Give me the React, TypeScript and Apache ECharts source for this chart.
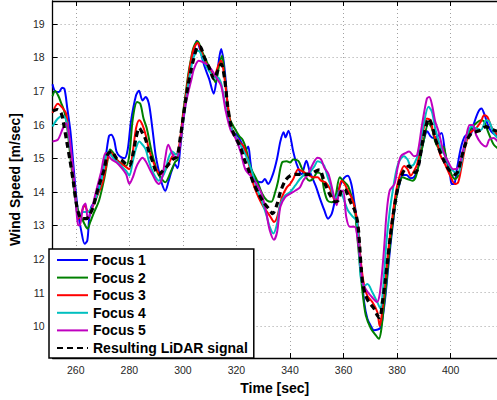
import React, { useEffect, useRef } from "react";
import * as echarts from "echarts";

const xTicks = [260, 280, 300, 320, 340, 360, 380, 400];
const yTicks = [10, 11, 12, 13, 14, 15, 16, 17, 18, 19];
const seriesNames = ["Focus 1", "Focus 2", "Focus 3", "Focus 4", "Focus 5", "Resulting LiDAR signal"];
const seriesColors = ["#0000ff", "#008000", "#ff0000", "#00bfbf", "#bf00bf", "#000000"];

const focus1: [number, number][] = [[251.3,17.2],[252.4,16.98],[253.7,16.97],[254.9,17.1],[255.8,17.05],[256.8,16.5],[258,15.8],[259,14.9],[260,14.0],[261,13.3],[262,12.85],[263.3,12.45],[264.3,12.55],[265,13.2],[265.8,13.55],[266.9,13.69],[268,13.9],[269.4,14.38],[271.2,15.07],[272.4,15.66],[273.2,15.7],[274.3,15.55],[275.2,15.2],[276.4,15.06],[278.2,15.0],[279.4,15.26],[280.6,16.09],[282.5,16.87],[283.6,17.01],[284.9,16.72],[286.1,16.82],[287.3,16.62],[288.6,15.89],[289.8,15.1],[291,14.62],[292.2,14.23],[293.4,14.03],[294.6,14.3],[295.8,14.62],[297,14.82],[298,14.7],[299,15.3],[300,16.1],[301,16.8],[302,17.35],[303,17.8],[304,18.2],[305.2,18.5],[306.5,18.2],[308,17.75],[309.8,17.36],[311.5,16.92],[312.5,17.3],[313.5,17.95],[314.3,18.25],[315.2,17.9],[316,17.3],[317.2,16.1],[318.5,15.8],[320,15.7],[321,15.6],[322.5,15.35],[323.5,15.25],[324.4,15.35],[325.2,14.9],[326,14.5],[327.5,14.33],[329.4,14.28],[330.6,14.38],[331.8,14.23],[333.6,14.52],[335.2,15.0],[336.4,15.5],[337.6,15.77],[338.3,15.62],[339.4,15.82],[341.2,15.2],[342.5,14.82],[344.3,14.52],[346.1,14.92],[347.3,14.62],[349.8,14.13],[351,13.84],[352.8,13.45],[354.2,13.2],[355.6,13.35],[356.8,13.74],[358,14.03],[359.2,14.28],[360.4,14.43],[361.6,14.48],[362.9,14.23],[364.1,13.64],[365.3,12.96],[366.5,11.79],[367.7,10.71],[368.9,10.22],[370.2,10.0],[371.3,9.88],[372.8,9.9],[373.8,9.95],[374.5,10.2],[375.5,10.8],[376.5,11.6],[377.5,12.4],[378.5,13.1],[379.6,13.8],[380.8,14.2],[382,14.5],[383.5,14.5],[385,14.4],[386.5,14.45],[388.1,14.8],[389.3,15.3],[390.5,15.7],[391.2,15.8],[392.5,15.65],[393.5,15.6],[395,15.65],[396.6,15.75],[398,15.1],[399.8,14.48],[400.4,14.23],[401.3,14.23],[402.2,14.62],[404.1,15.4],[405.9,15.69],[407.3,15.69],[408.5,15.99],[410.3,16.38],[411.5,16.48],[412.7,16.28],[413.9,15.99],[415.2,15.79],[417.5,15.65]];

const focus2: [number, number][] = [[251.3,16.85],[252.3,17.0],[253.5,16.85],[254.5,16.65],[255.5,16.45],[256.5,16.1],[257.5,15.4],[258.7,14.5],[259.8,13.8],[261,13.4],[262.3,13.2],[263.5,13.0],[264.4,12.9],[265.4,13.1],[266.9,13.4],[268.7,13.74],[270.6,14.38],[271.8,14.91],[272.75,15.26],[274,15.16],[275.8,14.91],[277.7,14.82],[278.8,14.77],[280,15.1],[281.3,16.18],[282.9,16.67],[284.1,16.62],[285.3,16.18],[286.5,15.89],[288.3,15.2],[289.6,14.82],[290.8,14.52],[292.6,14.33],[293.4,14.28],[295.6,14.62],[297.2,14.9],[298,14.95],[299,15.5],[300,16.3],[301,16.9],[302,17.5],[303,17.95],[304,18.3],[305.5,18.48],[307,18.2],[308,18.04],[310.4,17.6],[312.2,17.26],[313.5,17.75],[314.6,18.05],[315.7,17.36],[317.5,16.18],[319.3,15.89],[321.1,15.65],[322.3,15.55],[323.5,15.3],[325.3,14.72],[327.7,14.33],[329.6,13.94],[331.4,13.74],[333,13.7],[334.5,14.0],[335.5,14.3],[337,14.87],[338.8,14.91],[340,14.87],[341.2,14.96],[343.1,14.92],[344.3,14.72],[346.1,14.42],[347.3,14.33],[348.5,14.38],[350.3,14.57],[351.6,14.52],[352.8,14.03],[354,13.74],[355.6,13.69],[356.8,13.79],[358.6,14.43],[359.8,14.33],[361.6,14.18],[362.9,13.89],[364.1,13.55],[364.8,12.96],[365.9,11.98],[367.1,11.0],[368.3,10.32],[370.2,9.93],[372,9.73],[373.2,9.62],[374,9.85],[374.8,10.4],[376,11.3],[377.2,12.3],[378.4,13.1],[379.6,13.8],[380.8,14.23],[382,14.43],[383.8,14.38],[385.7,14.33],[386.9,14.43],[388.1,14.82],[389.9,15.5],[391.7,16.04],[393,15.89],[394.2,15.5],[395.4,15.3],[396.3,15.2],[397.3,15.35],[398.5,14.96],[400.3,14.52],[401.6,14.38],[402.8,14.48],[404,14.91],[405.9,15.6],[407.7,15.89],[409.5,16.04],[411.3,16.13],[412.5,16.09],[413.7,15.84],[414.9,15.6],[416.1,15.4],[417.5,15.3]];

const focus3: [number, number][] = [[251.3,16.35],[253.3,16.62],[255.2,16.48],[256.4,16.33],[257.5,15.6],[258.7,14.7],[259.9,13.85],[260.9,13.2],[262,13.35],[263.3,13.6],[264.2,13.45],[265.1,13.4],[266.3,13.55],[267.5,13.79],[270,14.28],[271.8,14.96],[272.75,15.2],[274.6,15.01],[276.4,14.87],[278.2,14.77],[280,14.67],[281.3,15.2],[282.5,15.89],[283.7,16.13],[284.9,15.99],[286.1,15.69],[287.3,15.26],[288.6,14.96],[289.8,14.72],[291.6,14.52],[292.8,14.57],[294.6,14.82],[296.4,15.1],[298,15.15],[299,15.6],[300,16.2],[301,16.8],[302,17.4],[303,17.9],[304,18.25],[305.5,18.43],[307,18.15],[308,17.94],[309.8,17.65],[311.6,17.45],[313.4,17.8],[314.3,17.9],[315.4,17.45],[316.7,16.62],[317.9,15.99],[319.6,15.65],[321.5,15.45],[322.7,15.35],[324.5,14.87],[326.3,14.23],[328.2,13.84],[330.1,13.55],[331.9,13.35],[333.4,13.16],[334,13.1],[335.2,13.25],[337,13.84],[338.8,14.13],[340,14.23],[341.2,14.38],[343.1,14.67],[344.3,14.62],[345.5,14.57],[347.3,14.48],[348.5,14.43],[350.3,14.43],[351.6,14.33],[353.2,14.28],[355,14.08],[356.8,13.74],[358,13.94],[359.2,14.33],[360.4,14.23],[361.6,14.03],[362.9,13.84],[364.1,13.55],[365.3,12.96],[366.5,11.88],[367.7,11.2],[368.9,10.9],[370.8,10.71],[372.6,10.42],[373.5,10.0],[374.2,10.3],[375,10.9],[376,11.7],[377.2,12.6],[378.4,13.35],[379.6,14.0],[380.8,14.43],[382.6,14.77],[383.9,14.67],[385.1,14.48],[386.3,14.62],[387.5,14.82],[389.3,15.6],[391.1,16.18],[392.4,16.13],[393.6,15.74],[395.4,15.35],[396.1,15.1],[397.9,14.82],[399.8,14.48],[401.6,14.23],[402.8,14.28],[404,14.72],[405.9,15.5],[407.7,15.79],[409.5,15.89],[411.3,16.09],[412.5,16.28],[413.7,16.23],[414.9,15.99],[416.1,15.79],[417.5,15.7]];

const focus4: [number, number][] = [[251.3,15.94],[253.3,16.18],[255.2,16.26],[256.5,16.1],[257.5,15.6],[258.7,14.8],[259.8,13.9],[260.9,13.25],[262.7,13.4],[264.5,13.4],[266.9,13.69],[269.4,14.28],[271.2,15.06],[272.4,15.2],[273.4,15.06],[275.2,14.91],[277,14.77],[278.8,14.62],[280,14.48],[281.3,14.91],[282.5,15.3],[283.7,15.5],[284.9,15.4],[286.1,15.26],[287.3,14.91],[288.6,14.62],[289.8,14.43],[291,14.33],[292.2,14.43],[293.4,14.62],[294.6,15.0],[296,15.2],[297.5,15.1],[299,15.4],[300,16.0],[301,16.6],[302,17.2],[303,17.65],[304,18.0],[305.5,18.2],[306.5,18.15],[308,17.85],[309.8,17.6],[311.6,17.41],[313.2,17.4],[314.2,17.25],[315,16.95],[316.6,16.28],[318.4,15.84],[320.3,15.55],[322.1,15.3],[323.9,15.01],[325.7,14.62],[327.5,14.13],[329.4,13.74],[331.2,13.3],[332.4,12.96],[333.8,12.76],[335.2,13.06],[336.4,13.64],[338.2,13.89],[340,13.99],[341.9,14.18],[343.7,14.38],[345.5,14.52],[347.3,14.57],[349.2,14.77],[350.3,14.91],[351.6,14.87],[352.8,14.77],[354,14.45],[355,14.23],[356.8,13.79],[358.6,14.03],[359.8,13.84],[361.6,13.45],[363.5,13.25],[364.7,13.16],[365.3,12.86],[365.9,12.08],[366.5,11.4],[367.7,11.2],[368.9,11.25],[370.8,11.0],[372.6,10.71],[373.8,10.52],[374.5,10.9],[375.2,11.6],[376,12.5],[377.2,13.4],[378.4,14.05],[379.6,14.6],[380.8,14.91],[382.6,15.06],[383.9,14.96],[385.1,14.77],[386.3,14.82],[388.1,15.2],[389.9,15.99],[391.7,16.53],[393,16.38],[394.2,15.89],[395.4,15.55],[396.1,15.35],[397.9,15.06],[399.8,14.72],[401.6,14.57],[402.8,14.52],[404,14.87],[405.9,15.6],[407.7,15.94],[409.5,15.89],[411.3,15.84],[413.2,16.13],[414.4,16.09],[416.1,15.74],[417.5,15.6]];

const focus5: [number, number][] = [[251.3,15.5],[253.3,15.55],[255.2,15.89],[256.4,16.04],[257.4,15.75],[258.4,15.1],[259.5,14.2],[260.3,13.4],[260.9,13.0],[261.5,13.0],[262.7,13.55],[263.6,13.65],[264.5,13.2],[265.7,13.4],[267.5,13.99],[269.4,14.57],[271.2,15.16],[273.4,14.96],[275.2,14.87],[277,14.72],[278.8,14.52],[280,14.23],[281.3,14.43],[282.5,14.72],[283.7,14.91],[284.9,15.01],[286.1,14.91],[287.3,14.72],[288.6,14.52],[289.8,14.33],[291,14.23],[292.2,14.4],[293.4,15.0],[294.5,15.4],[296.2,15.1],[297.5,15.0],[298.6,15.2],[299.5,15.7],[300.4,16.3],[301.4,16.75],[302.3,17.06],[303.2,17.35],[304.1,17.65],[305.9,17.9],[307.7,17.85],[309.5,17.75],[311.4,17.55],[312.5,17.4],[314.3,17.15],[316,16.4],[317.8,15.84],[319.6,15.6],[321.5,15.2],[323.3,14.67],[325.7,14.43],[327.5,14.23],[329.4,13.94],[331.2,13.35],[332.4,12.86],[334,12.57],[335.2,12.81],[336.4,13.55],[338.2,13.84],[340.1,13.94],[341.9,14.03],[343.7,14.13],[344.9,14.33],[346.7,14.52],[348.5,14.82],[350.3,15.01],[351.6,14.96],[352.8,14.72],[354.4,14.52],[356.2,13.94],[357.4,13.6],[358.6,14.03],[359.8,14.03],[361,13.25],[362.3,12.96],[364.1,12.96],[365.3,12.57],[366.3,11.88],[367.1,11.3],[368.3,11.1],[370.2,10.9],[372.5,10.72],[373.5,10.95],[374.5,11.7],[375.3,12.5],[376,13.3],[377.2,14.03],[379,14.23],[380.2,14.72],[381.4,15.06],[383.3,15.16],[384.5,15.2],[386.3,15.06],[387.5,15.1],[389.3,15.99],[391.1,16.77],[392,16.82],[393,16.6],[394.2,16.1],[395.5,15.79],[397.3,15.2],[399.2,14.87],[401,14.67],[402.8,14.72],[404,15.01],[405.9,15.69],[407.1,15.99],[408.3,15.99],[409.5,15.69],[411.3,15.45],[413.2,15.35],[414.4,15.55],[416,15.6],[417.5,15.5]];

const lidar: [number, number][] = [[251.3,16.4],[253,16.45],[254.5,16.35],[255.4,16.05],[256.6,15.5],[257.8,14.95],[259.1,14.28],[260.3,13.6],[261.5,13.25],[262.5,13.2],[264,13.2],[265,13.3],[266.3,13.5],[267.5,13.85],[268.7,14.2],[270.6,14.66],[271.8,15.1],[273.4,15.2],[275.2,15.0],[277,14.95],[278.8,14.82],[280,14.78],[281.3,15.1],[282.5,15.6],[283.7,15.9],[284.9,15.75],[286.1,15.55],[287.3,15.2],[288.6,14.92],[289.8,14.63],[291,14.52],[292.2,14.6],[294,14.75],[296,14.95],[297.8,15.05],[299,15.6],[300,16.15],[301,16.7],[302,17.2],[303,17.6],[304,17.95],[305.3,18.3],[306.3,18.33],[308,18.0],[309.8,17.7],[311.6,17.36],[313,17.6],[314.3,17.8],[315.5,17.4],[316.7,16.57],[317.9,15.99],[319.1,15.7],[320.4,15.5],[321.6,15.3],[322.8,15.0],[324.6,14.63],[326.5,14.23],[328.3,13.94],[330.1,13.69],[332,13.5],[333.5,13.35],[335.2,13.64],[336.4,13.99],[338.2,14.33],[340.1,14.48],[342.5,14.52],[344.9,14.52],[347.3,14.52],[349.8,14.62],[351,14.65],[353,14.25],[355,13.9],[356.8,13.7],[358,13.74],[359.2,14.03],[360.4,14.08],[361.6,13.89],[362.9,13.64],[364.1,13.46],[365.3,13.06],[366,12.4],[366.6,11.7],[367.2,11.25],[368.3,10.9],[369.5,10.71],[371.4,10.52],[372.6,10.32],[373.5,10.25],[374.5,10.7],[375.5,11.3],[376.5,12.0],[377.5,12.7],[378.5,13.3],[379.5,13.8],[380.5,14.2],[381.5,14.45],[382.7,14.65],[384.5,14.77],[385.7,14.62],[386.9,14.57],[388.1,14.82],[389.3,15.4],[390.6,15.89],[391.8,16.18],[393,15.99],[394.2,15.6],[395.5,15.3],[397.3,14.96],[399.2,14.67],[401.6,14.52],[402.8,14.62],[404,15.01],[405.9,15.5],[407.7,15.74],[409.5,15.79],[411.3,15.84],[413.2,15.94],[414.4,15.89],[416,15.84],[417.5,15.8]];

const seriesData = [focus1, focus2, focus3, focus4, focus5, lidar];

const FONT = "'Liberation Sans', Arial, Helvetica, sans-serif";
const X_MIN = 251.33;
const X_MAX = 417.3;
const Y_MIN = 9.05;
const Y_MAX = 19.68;

export default function App() {
  const ref = useRef<HTMLDivElement>(null);
  useEffect(() => {
    if (!ref.current) return;
    const chart = echarts.init(ref.current, null, { renderer: "svg" });
    const gridLine = { show: true, lineStyle: { color: "#a0a0a0", width: 1, type: [1, 3] as any } };
    const option: any = {
      animation: false,
      grid: { left: 45, right: -3, top: 1, bottom: 37, show: false },
      xAxis: [
        {
          type: "value",
          min: X_MIN,
          max: X_MAX,
          name: "Time [sec]",
          nameLocation: "middle",
          nameGap: 23,
          nameTextStyle: { fontSize: 14, fontWeight: "bold", color: "#000", fontFamily: FONT },
          axisLine: { show: true, onZero: false, lineStyle: { color: "#000", width: 1.3 } },
          axisTick: { show: true, inside: true, length: 5, customValues: xTicks, lineStyle: { color: "#000" } },
          axisLabel: { customValues: xTicks, fontSize: 10.5, color: "#262626", margin: 6, fontFamily: FONT },
          splitLine: gridLine,
        },
        {
          type: "value",
          position: "top",
          min: X_MIN,
          max: X_MAX,
          axisLine: { show: true, onZero: false, lineStyle: { color: "#000", width: 1.3 } },
          axisTick: { show: true, inside: true, length: 5, customValues: xTicks, lineStyle: { color: "#000" } },
          axisLabel: { show: false },
          splitLine: { show: false },
        },
      ],
      yAxis: [
        {
          type: "value",
          min: Y_MIN,
          max: Y_MAX,
          name: "Wind Speed [m/sec]",
          nameLocation: "middle",
          nameGap: 24,
          nameTextStyle: { fontSize: 14, fontWeight: "bold", color: "#000", fontFamily: FONT },
          axisLine: { show: true, onZero: false, lineStyle: { color: "#000", width: 1.3 } },
          axisTick: { show: true, inside: true, length: 5, customValues: yTicks, lineStyle: { color: "#000" } },
          axisLabel: { customValues: yTicks, fontSize: 10.5, color: "#262626", margin: 8, fontFamily: FONT },
          splitLine: gridLine,
        },
      ],
      legend: {
        orient: "vertical",
        left: 49,
        top: 249,
        padding: [4, 6, 3, 7],
        itemGap: 3.6,
        itemWidth: 31,
        itemHeight: 14,
        backgroundColor: "#fff",
        borderColor: "#000",
        borderWidth: 1.5,
        itemStyle: { opacity: 0 },
        textStyle: { fontSize: 14, fontWeight: "bold", color: "#000", fontFamily: FONT },
        data: seriesNames,
      },
      series: seriesNames.map((name, i) => ({
        name,
        type: "line",
        data: seriesData[i],
        symbol: "none",
        showSymbol: false,
        smooth: 0.3,
        z: 2 + i,
        itemStyle: { color: seriesColors[i] },
        lineStyle:
          i === 5
            ? { color: "#000", width: 3.2, type: [6, 4] }
            : { color: seriesColors[i], width: 2 },
      })),
    };
    chart.setOption(option);
    return () => chart.dispose();
  }, []);
  return (
    <div
      ref={ref}
      style={{ position: "absolute", left: 0, top: 0, width: 497, height: 400, background: "#fff" }}
    />
  );
}
